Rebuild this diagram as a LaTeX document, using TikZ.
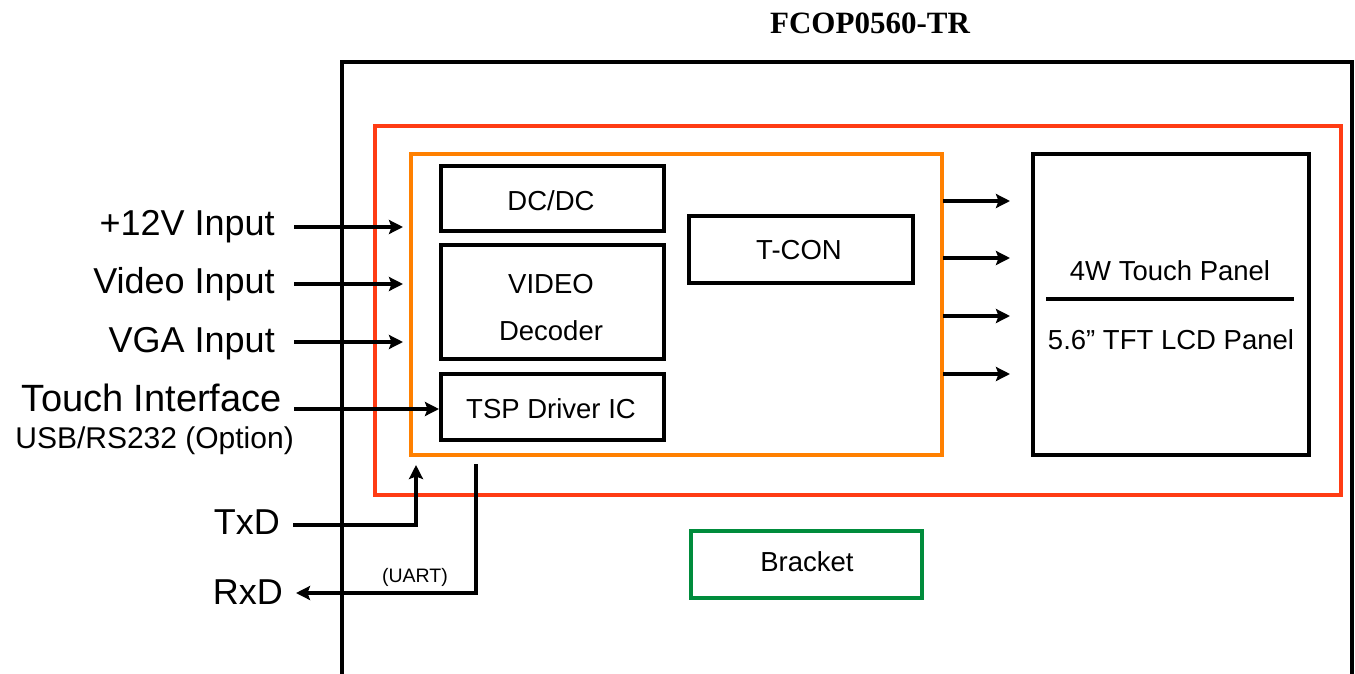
\documentclass[tikz,border=0pt]{standalone}
\usepackage{fontspec}
\setmainfont{Liberation Sans}
\newfontfamily\titlefont{Liberation Serif}
\usetikzlibrary{arrows.meta}
\definecolor{redline}{RGB}{255,60,20}
\definecolor{orangeline}{RGB}{255,128,0}
\definecolor{greenline}{RGB}{0,140,60}
\begin{document}
\begin{tikzpicture}[x=1pt,y=-1pt,
  blk/.style={draw=black,line width=4pt,inner sep=0pt,font=\fontsize{27.5}{30}\selectfont},
  lab/.style={inner sep=0pt,font=\fontsize{36}{40}\selectfont},
  txt/.style={inner sep=0pt,font=\fontsize{27.5}{30}\selectfont},
  arr/.style={line width=3.5pt,-{Stealth[length=14pt,width=14pt,inset=2.5pt]}},
  ln/.style={line width=3.5pt}]
\useasboundingbox[fill=white] (0,0) rectangle (1355,673);

% title
\node[inner sep=0pt,font=\titlefont\bfseries\fontsize{31}{34}\selectfont] (title) at (870,23) {FCOP0560-TR};

% outer housing (open at bottom)
\coordinate (hbl) at (342,700);
\coordinate (htl) at (342,62);
\coordinate (htr) at (1352,62);
\coordinate (hbr) at (1352,700);
\draw[line width=4.5pt] (hbl) -- (htl) -- (htr) -- (hbr);

% red and orange frames
\node[draw=redline,line width=4pt,minimum width=966pt,minimum height=369pt,inner sep=0pt] (red) at (858,310.5) {};
\node[draw=orangeline,line width=4.5pt,minimum width=531pt,minimum height=301pt,inner sep=0pt] (orange) at (676.5,304.5) {};

% inner blocks
\node[blk,minimum width=223pt,minimum height=65pt] (dcdc) at (552.5,198.5) {};
\node[txt] (dcdct) at (551,201) {DC/DC};
\node[blk,minimum width=223pt,minimum height=114pt] (video) at (552.5,302) {};
\node[txt] (videot1) at (551,284) {VIDEO};
\node[txt] (videot2) at (551,331) {Decoder};
\node[blk,minimum width=223pt,minimum height=66pt] (tsp) at (552.5,407) {};
\node[txt] (tspt) at (551,409) {TSP Driver IC};
\node[blk,minimum width=224pt,minimum height=67pt] (tcon) at (801,249.5) {};
\node[txt] (tcont) at (799,250) {T-CON};
\node[blk,minimum width=276pt,minimum height=301pt] (panel) at (1171,304.5) {};
\node[txt] (touchp) at (1170,271) {4W Touch Panel};
\node[txt] (lcd) at (1171,340) {5.6” TFT LCD Panel};
\coordinate (divl) at (1046,299);
\coordinate (divr) at (1294,299);
\draw[line width=4pt] (divl) -- (divr);
\node[draw=greenline,line width=3.5pt,minimum width=231pt,minimum height=67pt,inner sep=0pt] (bracket) at (806.5,564.5) {};
\node[txt] (brackett) at (807,562) {Bracket};

% left labels
\node[lab,anchor=base east] (l12v) at (275,235) {+12V Input};
\node[lab,anchor=base east] (lvid) at (275,293) {Video Input};
\node[lab,anchor=base east] (lvga) at (275,352) {VGA Input};
\node[lab,anchor=base east,font=\fontsize{38}{40}\selectfont] (ltouch) at (282,411) {Touch Interface};
\node[inner sep=0pt,anchor=base east,font=\fontsize{30}{32}\selectfont] (lusb) at (294,448) {USB/RS232 (Option)};
\node[lab,anchor=base east] (ltxd) at (280,534) {TxD};
\node[lab,anchor=base east] (lrxd) at (283,604) {RxD};
\node[inner sep=0pt,font=\fontsize{19.5}{22}\selectfont] (uart) at (415,577) {(UART)};

% input arrows
\coordinate (a1s) at (294,227); \coordinate (a1e) at (403,227);
\coordinate (a2s) at (294,284); \coordinate (a2e) at (403,284);
\coordinate (a3s) at (294,342); \coordinate (a3e) at (403,342);
\coordinate (a4s) at (294,409);
\draw[arr] (a1s) -- (a1e);
\draw[arr] (a2s) -- (a2e);
\draw[arr] (a3s) -- (a3e);
\draw[arr] (a4s) -- (tsp.west |- a4s);

% TxD / RxD
\coordinate (txs) at (293,525); \coordinate (txe) at (416,465);
\coordinate (rxs) at (476,464); \coordinate (rxe) at (296,593);
\draw[arr] (txs) -| (txe);
\draw[arr] (rxs) |- (rxe);

% output arrows
\foreach \y [count=\i] in {201,258,316,374}{
  \coordinate (o\i s) at (943,\y);
  \coordinate (o\i e) at (1010,\y);
  \draw[arr] (o\i s) -- (o\i e);
}
\end{tikzpicture}
\end{document}
